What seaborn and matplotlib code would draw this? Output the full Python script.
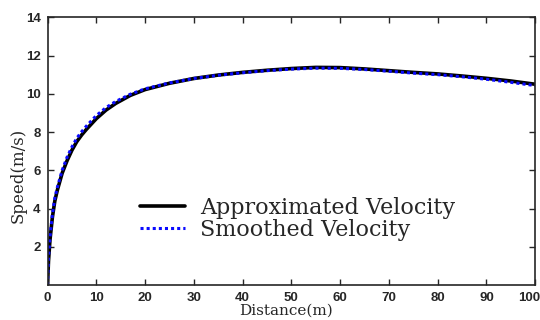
import pandas as pd
import matplotlib
matplotlib.use("Agg")
import matplotlib.pyplot as plt
import matplotlib.transforms as mtransforms
import seaborn as sns

# distance along the track (m)
distance = [0, 0.2, 0.5, 1, 1.5, 2, 3, 4, 5, 6, 7, 8, 10, 12, 14, 17, 20, 25,
            30, 35, 40, 45, 50, 55, 60, 65, 70, 75, 80, 85, 90, 95, 100]
# approximated velocity (m/s)
approx_v = [0, 1.25, 2.35, 3.55, 4.4, 4.95, 5.85, 6.5, 7.05, 7.5, 7.85, 8.15,
            8.7, 9.15, 9.5, 9.92, 10.22, 10.55, 10.8, 10.98, 11.12, 11.23, 11.32,
            11.38, 11.37, 11.3, 11.21, 11.12, 11.04, 10.93, 10.81, 10.67, 10.5]
# smoothed velocity (m/s)
smooth_v = [0, 1.4, 2.5, 3.7, 4.55, 5.1, 6.0, 6.68, 7.22, 7.68, 8.02, 8.32,
            8.86, 9.28, 9.6, 9.98, 10.26, 10.57, 10.8, 10.97, 11.1, 11.21, 11.29,
            11.34, 11.33, 11.27, 11.18, 11.08, 11.0, 10.89, 10.76, 10.6, 10.43]

df = pd.DataFrame({"distance": distance, "approx": approx_v, "smooth": smooth_v})

sns.set_style("ticks")
fig = plt.figure(figsize=(5.4, 3.2), dpi=100)
ax = fig.add_axes([0.088, 0.109, 0.903, 0.837])

sns.lineplot(data=df, x="distance", y="approx", ax=ax, color="black",
             linewidth=2.6, label="Approximated Velocity")
sns.lineplot(data=df, x="distance", y="smooth", ax=ax, color="#0a0aff",
             linewidth=2.2, linestyle=(0, (1, 1)), label="Smoothed Velocity")

ax.set_xlim(0, 100)
ax.set_ylim(0, 14)
ax.set_xticks(range(0, 101, 10))
ax.set_yticks(range(2, 15, 2))
ax.tick_params(direction="in", length=4, width=1, top=True, right=True,
               labelsize=9.5, pad=5)
for lab in ax.get_xticklabels() + ax.get_yticklabels():
    lab.set_fontweight("bold")
    lab.set_family("Liberation Sans")
# keep the last x label inside the figure
last = ax.get_xticklabels()[-1]
last.set_horizontalalignment("right")
last.set_transform(last.get_transform() +
                   mtransforms.ScaledTranslation(5 / 100, 0, fig.dpi_scale_trans))
for sp in ax.spines.values():
    sp.set_visible(True)
    sp.set_linewidth(1.2)

ax.set_xlabel("Distance(m)", family="DejaVu Serif", fontsize=11)
ax.set_ylabel("Speed(m/s)", family="DejaVu Serif", fontsize=12)
ax.xaxis.set_label_coords(0.49, -0.068)
ax.yaxis.set_label_coords(-0.043, 0.41)

ax.legend(frameon=False, loc="center left", bbox_to_anchor=(0.19, 0.248),
          prop={"family": "DejaVu Serif", "size": 16}, handlelength=2.0,
          labelspacing=0.0, handletextpad=0.7, borderpad=0, borderaxespad=0)

fig.savefig("out.png", dpi=100)
